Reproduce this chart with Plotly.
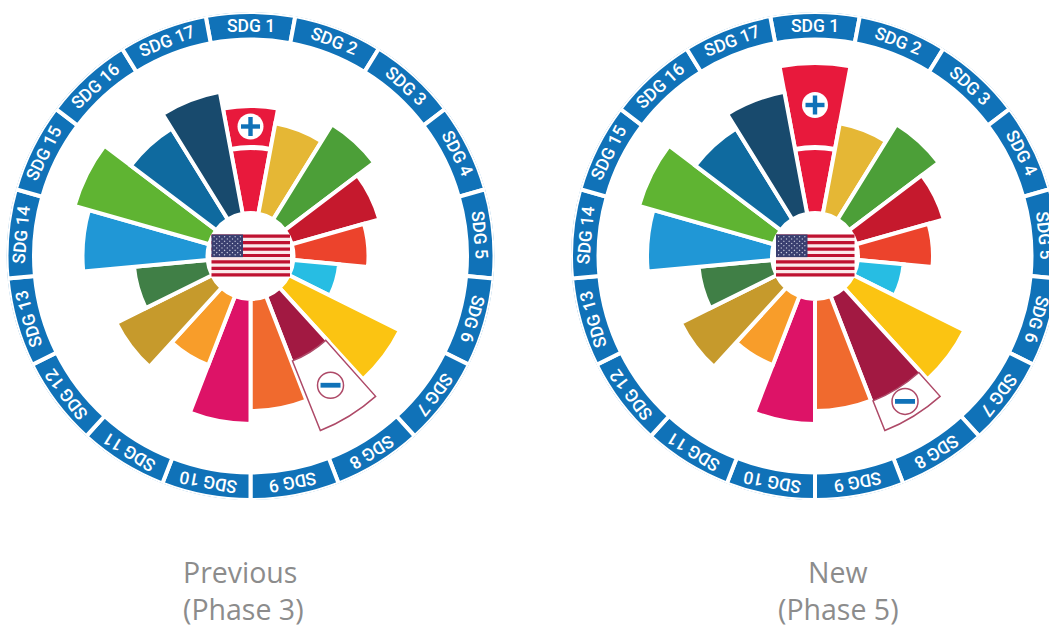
import plotly.graph_objects as go
import math

categories = [f"SDG {i}" for i in range(1, 18)]
colors = ["#E8193C", "#E5B735", "#4C9F38", "#C5192D", "#EC432C", "#27BDE3", "#FBC412", "#A21942",
          "#F06A2E", "#DD1367", "#F89D2A", "#C69A2C", "#407F46", "#2097D6", "#5FB432", "#0F6A9F", "#184A6D"]
previous_values = [148, 133, 153, 132, 116, 87, 165, 113, 153, 166, 115, 148, 115, 166, 181, 148, 165]
new_values = [191, 133, 153, 132, 116, 87, 165, 156, 153, 166, 115, 148, 115, 166, 181, 148, 165]
target_index = 7
target_value = 188
plus_index = 0
plus_split = 106

W, H = 1070, 626
R = 244
HOLE = 43
PAD = 2
BLUE = "#1072B8"
CENTERS = [(250.5, 256), (815, 256)]
step = 360 / 17

fig = go.Figure()
shapes, annotations = [], []


def px(x):
    return x / W


def py(y):
    return 1 - y / H


def add_circle(x, y, r, fill, line=None, lw=0):
    shapes.append(dict(type="circle", xref="paper", yref="paper", x0=px(x - r), x1=px(x + r),
                       y0=py(y + r), y1=py(y - r), fillcolor=fill,
                       line=dict(color=line or fill, width=lw)))


def add_rect(x0, y0, x1, y1, fill):
    shapes.append(dict(type="rect", xref="paper", yref="paper", x0=px(x0), x1=px(x1),
                       y0=py(y1), y1=py(y0), fillcolor=fill, line=dict(width=0)))


def polar_point(cx, cy, r, i):
    a = math.radians(i * step)
    return cx + r * math.sin(a), cy - r * math.cos(a)


def add_flag(cx, cy):
    x0, x1 = cx - 39, cx + 39.5
    y0, y1 = cy - 21.5, cy + 20.5
    h = (y1 - y0) / 13
    add_rect(x0, y0, x1, y1, "#FBE9EA")
    for s in range(0, 13, 2):
        add_rect(x0, y0 + s * h, x1, y0 + (s + 1) * h, "#BF1231")
    cw, ch = 31.5, 7 * h
    add_rect(x0, y0, x0 + cw, y0 + ch, "#3A3F70")
    d = []
    for row in range(9):
        n = 6 if row % 2 == 0 else 5
        for col in range(n):
            sx = x0 + cw * ((col + (0.5 if n == 6 else 1)) / 6)
            sy = y0 + ch * ((row + 1) / 10)
            e = 0.8
            d.append(f"M{px(sx - e)},{py(sy)}L{px(sx)},{py(sy - e)}L{px(sx + e)},{py(sy)}L{px(sx)},{py(sy + e)}Z")
    shapes.append(dict(type="path", xref="paper", yref="paper", path="".join(d),
                       fillcolor="#D9DCEB", line=dict(width=0)))


def add_polar(name, cx, cy, values, caption_lines):
    pname = name
    fig.add_trace(go.Barpolar(subplot=pname, theta=categories, r=[R - 216.5] * 17, base=216.5,
                              marker=dict(color=BLUE, line=dict(color="white", width=4)),
                              hoverinfo="skip", showlegend=False))
    fig.add_trace(go.Barpolar(subplot=pname, theta=categories, r=[v + PAD - HOLE for v in values], base=HOLE,
                              marker=dict(color=colors, line=dict(color="white", width=4)),
                              hoverinfo="theta+r", showlegend=False))
    # white band across SDG 1
    fig.add_trace(go.Barpolar(subplot=pname, theta=[categories[plus_index]], r=[5], base=plus_split,
                              marker=dict(color="white", line=dict(width=0)),
                              hoverinfo="skip", showlegend=False))
    # outlined target wedge for SDG 8
    fig.add_trace(go.Barpolar(subplot=pname, theta=[categories[target_index]],
                              r=[target_value - values[target_index]], base=values[target_index],
                              width=[0.94],
                              marker=dict(color="white", line=dict(color="#AE4A68", width=1.5)),
                              hoverinfo="skip", showlegend=False))
    fig.update_layout({pname: dict(
        domain=dict(x=[px(cx - R), px(cx + R)], y=[py(cy + R), py(cy - R)]),
        bgcolor="rgba(0,0,0,0)", barmode="overlay", bargap=0,
        radialaxis=dict(visible=False, range=[0, R], showgrid=False),
        angularaxis=dict(visible=False, type="category", categoryarray=categories, categoryorder="array",
                         direction="clockwise", rotation=90, showgrid=False))})

    for i, c in enumerate(categories):
        x, y = polar_point(cx, cy, 230.5, i)
        annotations.append(dict(text=c, x=px(x), y=py(y), xref="paper", yref="paper", showarrow=False,
                                textangle=i * step, xanchor="center", yanchor="middle",
                                font=dict(family="Roboto", size=17.5, color="white", weight=500)))

    add_flag(cx, cy + 0)

    # plus badge
    r_plus = (values[plus_index] + plus_split + 5) / 2
    bx, by = polar_point(cx, cy, r_plus, plus_index)
    add_circle(bx, by, 13, "white")
    add_rect(bx - 9.5, by - 2.2, bx + 9.5, by + 2.2, BLUE)
    add_rect(bx - 2.2, by - 9.5, bx + 2.2, by + 9.5, BLUE)

    # minus badge
    r_minus = 171 if values[target_index] > 130 else 152
    bx, by = polar_point(cx, cy, r_minus, target_index)
    add_circle(bx, by, 13, "white", "#AE4A68", 1.5)
    add_rect(bx - 10, by - 2.4, bx + 10, by + 2.4, BLUE)

    for (tx, ty, t) in caption_lines:
        annotations.append(dict(text=t, x=px(tx), y=py(ty), xref="paper", yref="paper", showarrow=False,
                                xanchor="center", yanchor="middle",
                                font=dict(family="Open Sans", size=28.5, color="#8C8C8C")))


add_polar("polar", *CENTERS[0], previous_values, [(239.5, 572, "Previous"), (243, 609, "(Phase 3)")])
add_polar("polar2", *CENTERS[1], new_values, [(838, 572, "New"), (838, 609, "(Phase 5)")])

fig.update_layout(width=W, height=H, margin=dict(l=0, r=0, t=0, b=0), paper_bgcolor="white",
                  plot_bgcolor="white", showlegend=False, shapes=shapes, annotations=annotations)

fig.write_html("out.html", config=dict(displayModeBar=False),
               post_script="document.body.style.margin='0';document.body.style.overflow='hidden';"
                           "document.documentElement.style.overflow='hidden';")
